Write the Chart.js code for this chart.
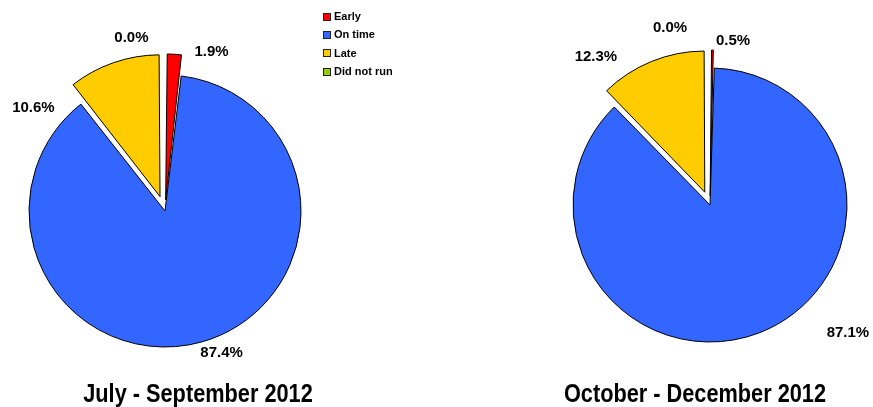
<!DOCTYPE html>
<html>
<head>
<meta charset="utf-8">
<script src="https://cdn.jsdelivr.net/npm/chart.js@4.4.1/dist/chart.umd.min.js"></script>
<style>
    html, body { margin: 0; padding: 0; background: #fff; overflow: hidden; }
    #wrap { position: relative; width: 873px; height: 407px; }
    canvas { position: absolute; top: 0; }
    #pieQ3 { left: 0; }
    #pieQ4 { left: 540px; }
    .ttl {
        position: absolute; top: 378px; width: 400px; height: 30px; line-height: 30px;
        text-align: center; white-space: nowrap;
        font: bold 26.5px "Liberation Sans", Arial, sans-serif; color: #000;
        transform: scaleX(0.82);
    }
    #legend { position: absolute; left: 323px; top: 8px; font: bold 11px "Liberation Sans", Arial, sans-serif; color: #000; }
    .lg { height: 18.4px; line-height: 16px; white-space: nowrap; }
    .lg i { display: inline-block; width: 6px; height: 6px; border: 1px solid #222; margin-right: 3px; vertical-align: -0.5px; }
</style>
</head>
<body>
<div id="wrap">
    <canvas id="pieQ3" width="330" height="407"></canvas>
    <canvas id="pieQ4" width="333" height="407"></canvas>
    <div id="legend"></div>
    <div class="ttl" id="ttlQ3" style="left:-2px"></div>
    <div class="ttl" id="ttlQ4" style="left:495px"></div>
</div>
<script>
    // ============================
    // Data
    // ============================
    const categories = ["Early", "On time", "Late", "Did not run"];
    const q3Values = [1.9, 87.4, 10.6, 0.0];   // July - September 2012
    const q4Values = [0.5, 87.1, 12.3, 0.0];   // October - December 2012
    const periodTitles = ["July - September 2012", "October - December 2012"];

    const sliceColors = ["#FF0000", "#3366FF", "#FFCC00", "#99CC00"];
    const explodedSlices = [true, false, true, false];

    // label spots: [angle deg clockwise from top, distance from pie centre]
    const q3Spots = [[16.3, 166], [158.3, 153], [-52, 167], [-11, 176]];
    const q4Spots = [[8, 166], [132.8, 188], [-37.6, 187], [-12.7, 182]];

    // ============================
    // percentage labels plugin
    // ============================
    const pctLabels = {
        id: "pctLabels",
        afterDatasetsDraw(chart, args, opts) {
            const meta = chart.getDatasetMeta(0);
            const vals = chart.data.datasets[0].data;
            const ctx = chart.ctx;
            ctx.save();
            ctx.font = "bold 15px 'Liberation Sans', Arial, sans-serif";
            ctx.fillStyle = "#000";
            ctx.textAlign = "center";
            ctx.textBaseline = "middle";
            meta.data.forEach((arc, i) => {
                const sp = opts.spots[i];
                if (!sp) return;
                const a = sp[0] * Math.PI / 180;
                ctx.fillText(vals[i].toFixed(1) + "%", arc.x + sp[1] * Math.sin(a), arc.y - sp[1] * Math.cos(a));
            });
            ctx.restore();
        }
    };

    // chart.js v4 moves an arc by offset/4 * (2 - sin(circumference))
    // -> work back the offset that gives the wanted explode distance
    function explodeOffset(values, dist) {
        const total = values.reduce((s, v) => s + v, 0);
        return (c) => {
            if (!explodedSlices[c.dataIndex]) return 0;
            const circ = values[c.dataIndex] / total * Math.PI * 2;
            return dist * 4 / (2 - Math.sin(Math.min(Math.PI, circ)));
        };
    }

    function makePie(canvasId, values, spots, padding, radius, dist) {
        const ctx = document.getElementById(canvasId).getContext("2d");
        return new Chart(ctx, {
            type: "pie",
            data: {
                labels: categories,
                datasets: [{
                    data: values,
                    backgroundColor: sliceColors,
                    borderColor: "#000",
                    borderWidth: (c) => (c.raw === 0 ? 0 : 1),
                    offset: explodeOffset(values, dist)
                }]
            },
            options: {
                responsive: false,
                animation: false,
                events: [],
                radius: radius,
                layout: { padding: padding },
                plugins: {
                    legend: { display: false },
                    tooltip: { enabled: false },
                    pctLabels: { spots: spots }
                }
            },
            plugins: [pctLabels]
        });
    }

    makePie("pieQ3", q3Values, q3Spots, { top: 15, left: 0, right: 0, bottom: 0 }, 136, 21);
    makePie("pieQ4", q4Values, q4Spots, { top: 3, left: 7, right: 0, bottom: 0 }, 137, 18);

    // ============================
    // titles + legend (html text)
    // ============================
    document.getElementById("ttlQ3").textContent = periodTitles[0];
    document.getElementById("ttlQ4").textContent = periodTitles[1];

    const lg = document.getElementById("legend");
    categories.forEach((name, i) => {
        const row = document.createElement("div");
        row.className = "lg";
        const sw = document.createElement("i");
        sw.style.background = sliceColors[i];
        row.appendChild(sw);
        row.appendChild(document.createTextNode(name));
        lg.appendChild(row);
    });
</script>
</body>
</html>
